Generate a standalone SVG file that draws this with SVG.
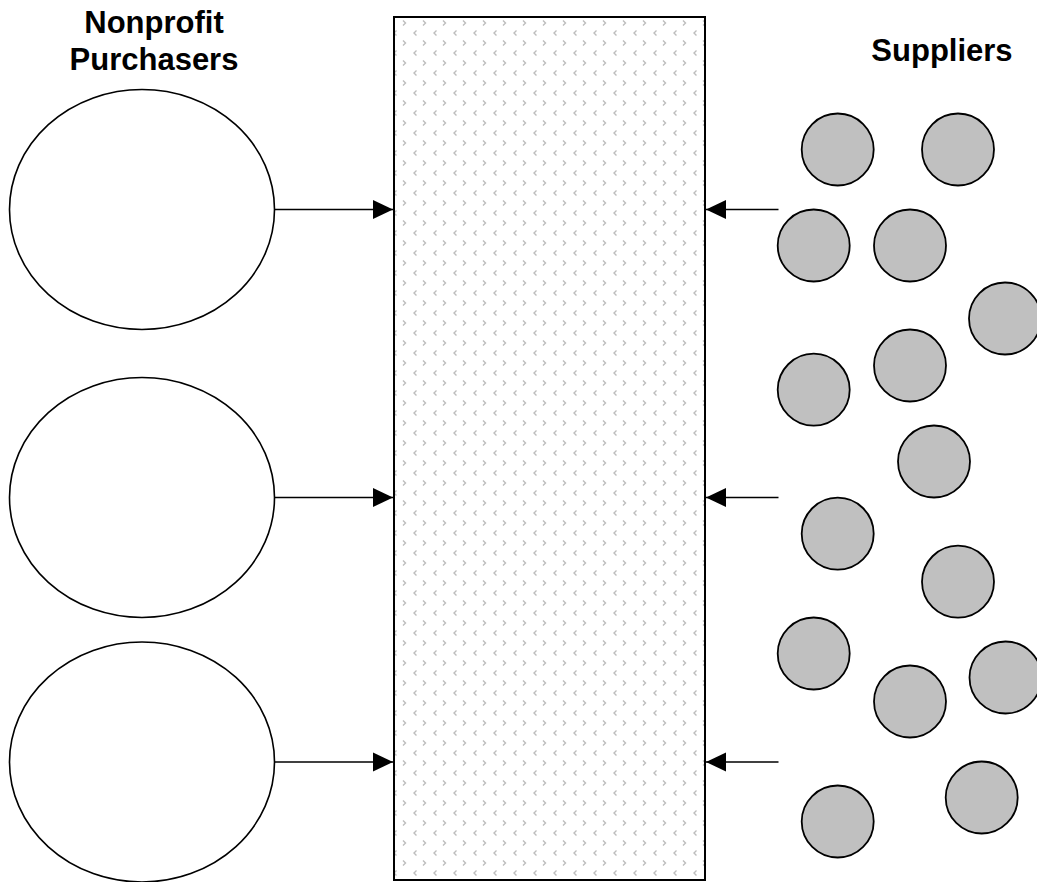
<svg xmlns="http://www.w3.org/2000/svg" width="1037" height="882" viewBox="0 0 1037 882">
  <defs>
    <style>
      .label { font-family: "Liberation Sans", Arial, sans-serif; font-weight: bold; font-size: 31px; fill: #000; text-anchor: middle; }
      .buyer { fill: #fff; stroke: #000; stroke-width: 1.6; }
      .supplier { fill: #c0c0c0; stroke: #000; stroke-width: 1.8; }
      .link { stroke: #000; stroke-width: 1.6; fill: none; }
      .chev { fill: none; stroke: #bdbdbd; stroke-width: 1.4; }
    </style>
    <!-- small alternating chevron texture for the exchange block -->
    <pattern id="chevrons" patternUnits="userSpaceOnUse" x="0" y="0" width="20" height="20">
      <rect width="20" height="20" fill="#fff"/>
      <polyline class="chev" points="3,0.5 5.5,3 3,5.5"/>
      <polyline class="chev" points="16.5,10.5 14,13 16.5,15.5"/>
    </pattern>
    <marker id="head" viewBox="0 0 20 20" refX="20" refY="10" markerWidth="20" markerHeight="20" markerUnits="userSpaceOnUse" orient="auto">
      <path d="M0,0.5 L20,10 L0,19.5 Z" fill="#000"/>
    </marker>
  </defs>

  <rect width="1037" height="882" fill="#fff"/>

  <!-- headings -->
  <g id="heading-purchasers">
    <text class="label" x="154" y="33">Nonprofit</text>
    <text class="label" x="154" y="70">Purchasers</text>
  </g>
  <g id="heading-suppliers">
    <text class="label" x="942" y="61">Suppliers</text>
  </g>

  <!-- central exchange block -->
  <g id="exchange">
    <rect x="394" y="17" width="311" height="863" fill="url(#chevrons)" stroke="#000" stroke-width="2"/>
  </g>

  <!-- purchasers -->
  <g id="purchaser-1"><ellipse class="buyer" cx="142" cy="209.5" rx="132.5" ry="120"/></g>
  <g id="purchaser-2"><ellipse class="buyer" cx="142" cy="497.5" rx="132.5" ry="120"/></g>
  <g id="purchaser-3"><ellipse class="buyer" cx="142" cy="762" rx="132.5" ry="120"/></g>

  <!-- suppliers -->
  <g id="suppliers">
    <g id="supplier-1"><circle class="supplier" cx="837.7" cy="149.5" r="36"/></g>
    <g id="supplier-2"><circle class="supplier" cx="958" cy="149.5" r="36"/></g>
    <g id="supplier-3"><circle class="supplier" cx="813.7" cy="245.5" r="36"/></g>
    <g id="supplier-4"><circle class="supplier" cx="910" cy="245.5" r="36"/></g>
    <g id="supplier-5"><circle class="supplier" cx="1005" cy="318.5" r="36"/></g>
    <g id="supplier-6"><circle class="supplier" cx="910" cy="365.5" r="36"/></g>
    <g id="supplier-7"><circle class="supplier" cx="813.7" cy="389.7" r="36"/></g>
    <g id="supplier-8"><circle class="supplier" cx="934" cy="461.5" r="36"/></g>
    <g id="supplier-9"><circle class="supplier" cx="837.7" cy="533.7" r="36"/></g>
    <g id="supplier-10"><circle class="supplier" cx="958" cy="581.7" r="36"/></g>
    <g id="supplier-11"><circle class="supplier" cx="813.7" cy="653.5" r="36"/></g>
    <g id="supplier-12"><circle class="supplier" cx="910" cy="701.5" r="36"/></g>
    <g id="supplier-13"><circle class="supplier" cx="1005.5" cy="677.5" r="36"/></g>
    <g id="supplier-14"><circle class="supplier" cx="837.7" cy="821.5" r="36"/></g>
    <g id="supplier-15"><circle class="supplier" cx="981.7" cy="797.5" r="36"/></g>
  </g>

  <!-- connectors -->
  <g id="connectors">
    <line class="link" x1="274.5" y1="209.5" x2="393" y2="209.5" marker-end="url(#head)"/>
    <line class="link" x1="274.5" y1="497.5" x2="393" y2="497.5" marker-end="url(#head)"/>
    <line class="link" x1="274.5" y1="762" x2="393" y2="762" marker-end="url(#head)"/>
    <line class="link" x1="778.5" y1="209.5" x2="706" y2="209.5" marker-end="url(#head)"/>
    <line class="link" x1="778.5" y1="497.5" x2="706" y2="497.5" marker-end="url(#head)"/>
    <line class="link" x1="778.5" y1="762" x2="706" y2="762" marker-end="url(#head)"/>
  </g>
</svg>
